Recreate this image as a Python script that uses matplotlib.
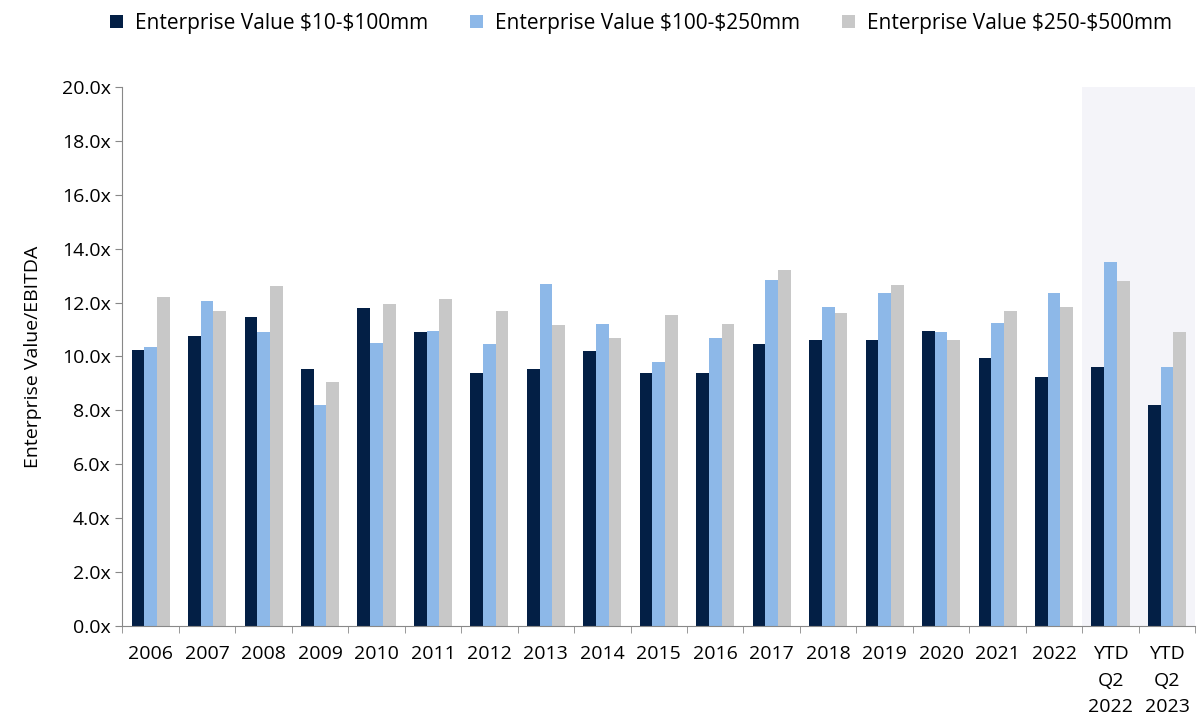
import numpy as np
import matplotlib
matplotlib.use("Agg")
import matplotlib.pyplot as plt

plt.rcParams['font.family'] = ['Open Sans', 'DejaVu Sans']

categories = ['2006', '2007', '2008', '2009', '2010', '2011', '2012', '2013',
              '2014', '2015', '2016', '2017', '2018', '2019', '2020', '2021',
              '2022', 'YTD\nQ2\n2022', 'YTD\nQ2\n2023']
ev_10_100 = [10.25, 10.75, 11.45, 9.55, 11.8, 10.9, 9.4, 9.55, 10.2, 9.4,
             9.4, 10.45, 10.6, 10.6, 10.95, 9.95, 9.25, 9.6, 8.2]
ev_100_250 = [10.35, 12.05, 10.9, 8.2, 10.5, 10.95, 10.45, 12.7, 11.2, 9.8,
              10.7, 12.85, 11.85, 12.35, 10.9, 11.25, 12.35, 13.5, 9.6]
ev_250_500 = [12.2, 11.7, 12.6, 9.05, 11.95, 12.15, 11.7, 11.15, 10.7, 11.55,
              11.2, 13.2, 11.6, 12.65, 10.6, 11.7, 11.85, 12.8, 10.9]
series_names = [r'Enterprise Value \$10-\$100mm',
                r'Enterprise Value \$100-\$250mm',
                r'Enterprise Value \$250-\$500mm']
colors = ['#031f45', '#8db8e8', '#c8c8c8']

fig = plt.figure(figsize=(12, 7.2), dpi=100)
ax = fig.add_axes([0.102, 0.1306, 0.894, 0.7486])

x = np.arange(len(categories))
w = 0.225
# shaded YTD block
ax.axvspan(16.5, 18.5, color='#f4f4f9', zorder=0, lw=0)
for i, (vals, name, c) in enumerate(zip([ev_10_100, ev_100_250, ev_250_500],
                                        series_names, colors)):
    ax.bar(x + (i - 1) * w, vals, width=w, color=c, label=name, zorder=2)

ax.set_xlim(-0.5, len(categories) - 0.5)
ax.set_ylim(0, 20)
ax.set_yticks(np.arange(0, 20.1, 2))
ax.set_yticklabels([f'{v:.1f}x' for v in np.arange(0, 20.1, 2)])
ax.set_xticks(x)
ax.set_xticklabels(categories, va='top', linespacing=1.6)
ax.set_xticks(np.arange(-0.5, len(categories), 1), minor=True)
ax.tick_params(axis='x', which='major', length=0, labelsize=14, pad=14)
ax.tick_params(axis='x', which='minor', length=5, color='#888888')
ax.tick_params(axis='y', length=5, color='#888888', labelsize=14)
ax.set_ylabel('Enterprise Value/EBITDA', fontsize=14, labelpad=14)

for s in ['top', 'right']:
    ax.spines[s].set_visible(False)
for s in ['left', 'bottom']:
    ax.spines[s].set_color('#888888')

fig.legend(loc='upper center', bbox_to_anchor=(0.534, 1.008), ncol=3,
           frameon=False, fontsize=15, handlelength=0.63, handleheight=0.63,
           columnspacing=2.0, handletextpad=0.58)

fig.savefig('out.png', dpi=100)
